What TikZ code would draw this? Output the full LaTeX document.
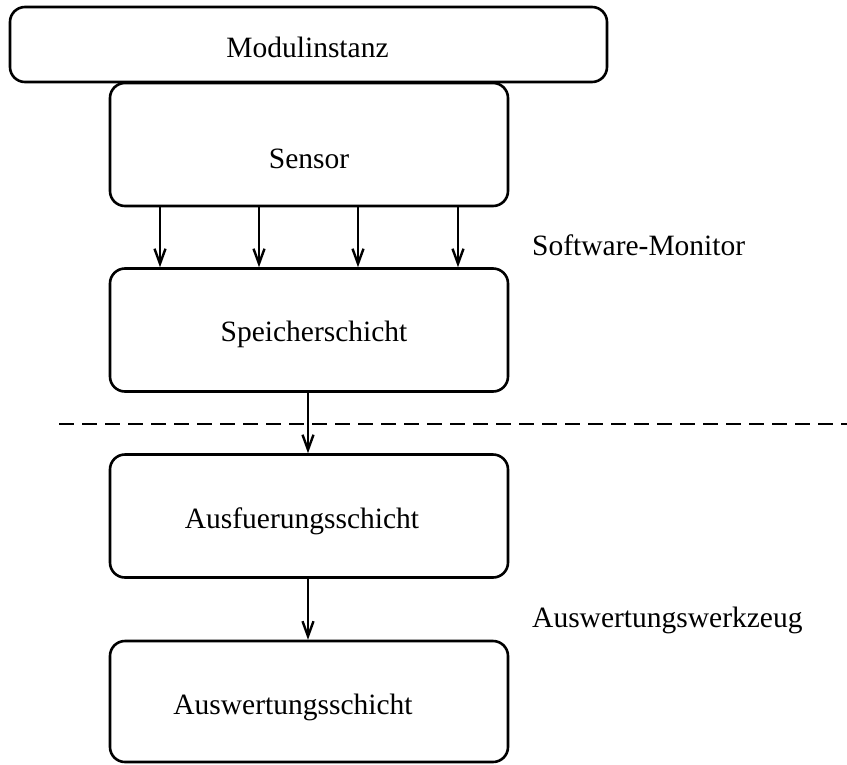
\documentclass[tikz,border=0pt]{standalone}
\usepackage{fontspec}
\setmainfont{Liberation Serif}
\usetikzlibrary{arrows.meta}
\begin{document}
\begin{tikzpicture}[x=1pt,y=-1pt,
  box/.style={draw, line width=2.6pt, rounded corners=15pt, inner sep=0pt,
              minimum width=398pt, minimum height=123pt},
  lbl/.style={font=\fontsize{29.5}{35}\selectfont, inner sep=0pt, anchor=base},
  side/.style={lbl, anchor=base west},
  flow/.style={line width=2.4pt, -{Straight Barb[length=15pt,width=11pt,line width=2.4pt]}},
  sep/.style={line width=2.6pt, dash pattern=on 15pt off 8pt}]
\useasboundingbox (0,0) rectangle (847,764);

% boxes
\node[box, minimum width=597pt, minimum height=75pt] (mod) at (308.5,44.5) {};
\node[box] (sensor) at (309,144.5) {};
\node[box] (spei)   at (309,330) {};
\node[box] (ausf)   at (309,516) {};
\node[box, minimum height=121pt] (ausw) at (309,701.5) {};

% box labels
\node[lbl] (tmod)    at (307.5,57)  {Modulinstanz};
\node[lbl] (tsensor) at (309,168)   {Sensor};
\node[lbl] (tspei)   at (314,341)   {Speicherschicht};
\node[lbl] (tausf)   at (302,528)   {Ausfuerungsschicht};
\node[lbl] (tausw)   at (293,714)   {Auswertungsschicht};

% side labels
\node[side] (tmon) at (532,255) {Software-Monitor};
\node[side] (twz)  at (532,627) {Auswertungswerkzeug};

% column positions of the sensor outputs
\coordinate (c1) at (160,0);
\coordinate (c2) at (259,0);
\coordinate (c3) at (358,0);
\coordinate (c4) at (458,0);
\coordinate (cm) at (308,0);

\foreach \c in {c1,c2,c3,c4}
  \draw[flow] (sensor.south -| \c) -- (spei.north -| \c);
\draw[flow] (spei.south -| cm) -- (ausf.north -| cm);
\draw[flow] (ausf.south -| cm) -- (ausw.north -| cm);

% separator between monitor and evaluation tool
\coordinate (dl) at (59,424);
\coordinate (dr) at (847,424);
\draw[sep] (dl) -- (dr);
\end{tikzpicture}
\end{document}
